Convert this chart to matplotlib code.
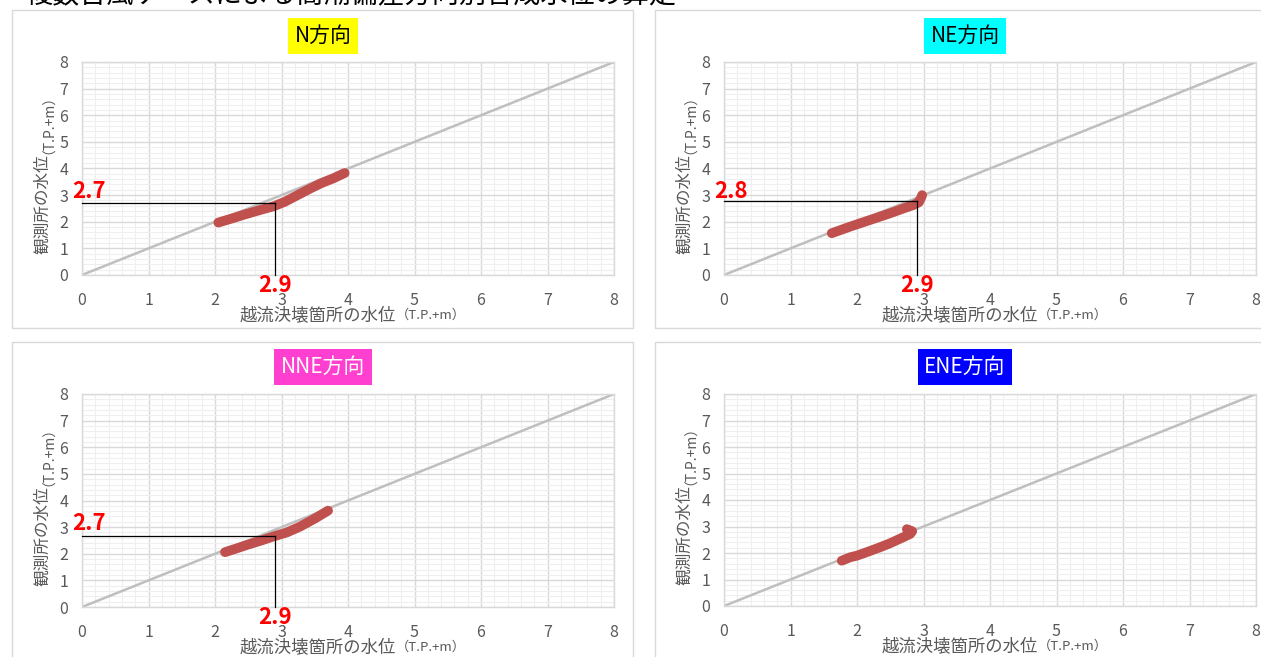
import matplotlib
matplotlib.use("Agg")
import matplotlib.pyplot as plt
from matplotlib.patches import Rectangle
from matplotlib.ticker import MultipleLocator

plt.rcParams['font.family'] = ['Noto Sans CJK JP', 'DejaVu Sans']

# ---- data ----
page_title = "複数台風ケースによる高潮偏差方向別合成水位の算定"
panel_titles = ["N方向", "NE方向", "NNE方向", "ENE方向"]
title_bg = ["#FFFF00", "#00FFFF", "#FF3FCF", "#0000FF"]
title_fg = ["black", "black", "white", "white"]

x_label = "越流決壊箇所の水位"
y_label = "観測所の水位"
unit_label = "（T.P.+m）"

diag_x = [0, 8]
diag_y = [0, 8]

n_x = [2.05, 2.25, 2.43, 2.65, 2.88, 3.05, 3.28, 3.45, 3.6, 3.78, 3.95]
n_y = [1.97, 2.12, 2.26, 2.42, 2.58, 2.75, 3.05, 3.27, 3.45, 3.63, 3.83]

ne_x = [1.62, 1.9, 2.2, 2.5, 2.7, 2.85, 2.93, 2.96, 2.98]
ne_y = [1.57, 1.82, 2.07, 2.32, 2.5, 2.63, 2.73, 2.88, 3.0]

nne_x = [2.15, 2.3, 2.48, 2.7, 2.88, 3.08, 3.28, 3.5, 3.7]
nne_y = [2.06, 2.18, 2.33, 2.5, 2.65, 2.8, 3.02, 3.32, 3.62]

ene_x = [1.77, 1.9, 2.0, 2.2, 2.35, 2.5, 2.7, 2.8, 2.83, 2.75]
ene_y = [1.71, 1.84, 1.9, 2.08, 2.22, 2.37, 2.6, 2.72, 2.82, 2.9]

series_x = [n_x, ne_x, nne_x, ene_x]
series_y = [n_y, ne_y, nne_y, ene_y]

# reading guides (None = no guide)
guide_x = [2.9, 2.9, 2.9, None]
guide_y = [2.7, 2.78, 2.67, None]
guide_xlabel = ["2.9", "2.9", "2.9", None]
guide_ylabel = ["2.7", "2.8", "2.7", None]

ticks = [0, 1, 2, 3, 4, 5, 6, 7, 8]

# ---- figure ----
W, H = 1261, 657
fig = plt.figure(figsize=(W / 100, H / 100), dpi=100)

def fx(px):
    return px / W

def fy(py):
    return 1 - py / H

# chart area borders
boxes = [(12, 10, 633, 328), (655, 10, 1275, 328), (12, 342, 633, 670), (655, 342, 1275, 670)]
for (x0, y0, x1, y1) in boxes:
    fig.patches.append(Rectangle((fx(x0), fy(y1)), fx(x1 - x0), (y1 - y0) / H,
                                 transform=fig.transFigure, fill=False,
                                 edgecolor="#D9D9D9", lw=1.0))

# page title (cut off at top)
fig.text(fx(25), fy(-5), page_title, fontsize=19.5, ha="left", va="center", color="black")

axes_px = [(82, 62, 614, 275), (724, 62, 1256, 275), (82, 394, 614, 607), (724, 394, 1256, 606)]
title_pos = [(323, 36), (965, 36), (323, 367), (965, 367)]

for i, (x0, y0, x1, y1) in enumerate(axes_px):
    ax = fig.add_axes([fx(x0), fy(y1), fx(x1 - x0), (y1 - y0) / H])
    ax.set_xlim(0, 8)
    ax.set_ylim(0, 8)
    ax.xaxis.set_major_locator(MultipleLocator(1))
    ax.yaxis.set_major_locator(MultipleLocator(1))
    ax.xaxis.set_minor_locator(MultipleLocator(0.2))
    ax.yaxis.set_minor_locator(MultipleLocator(0.2))
    ax.grid(which="minor", color="#EFEFEF", lw=0.8)
    ax.grid(which="major", color="#D9D9D9", lw=1.0)
    ax.set_axisbelow(True)
    for s in ax.spines.values():
        s.set_color("#D9D9D9")
        s.set_linewidth(1.0)
    ax.tick_params(which="both", length=0, labelsize=11.5, labelcolor="#595959")
    ax.tick_params(axis="x", pad=12)
    ax.tick_params(axis="y", pad=10)
    ax.set_xticks(ticks)
    ax.set_yticks(ticks)

    ax.plot(diag_x, diag_y, color="#BFBFBF", lw=1.8, zorder=2)

    if guide_x[i] is not None:
        gx, gy = guide_x[i], guide_y[i]
        ax.plot([0, gx], [gy, gy], color="black", lw=0.9, zorder=4, clip_on=False)
        ax.plot([gx, gx], [0, gy], color="black", lw=0.9, zorder=4, clip_on=False)

    ax.plot(series_x[i], series_y[i], color="#C0504D", lw=7.0,
            solid_capstyle="round", solid_joinstyle="round", zorder=3)

    if guide_x[i] is not None:
        ax.text(0.1, 3.15, guide_ylabel[i], color="red", fontsize=16,
                fontweight="bold", ha="center", va="center", clip_on=False, zorder=6)
        ax.text(gx, -0.38, guide_xlabel[i], color="red", fontsize=16,
                fontweight="bold", ha="center", va="center", clip_on=False, zorder=6)

    # x label (two sizes)
    t1 = ax.text(0.59, -0.19, x_label, transform=ax.transAxes, fontsize=12.5,
                 color="#595959", ha="right", va="center")
    ax.annotate(unit_label, xy=(1, 0.5), xycoords=t1, fontsize=9.5, color="#595959",
                ha="left", va="center")

    # y label (two sizes)
    t2 = ax.text(-0.075, 0.0, y_label, transform=ax.transAxes, fontsize=12,
                 color="#595959", ha="center", va="bottom", rotation=90)
    t2.set_y(0.10)
    ax.annotate(unit_label, xy=(0.5, 1), xycoords=t2, fontsize=10, color="#595959",
                ha="center", va="bottom", rotation=90)

    # panel title
    tx, ty = title_pos[i]
    fig.text(fx(tx), fy(ty), panel_titles[i], fontsize=15, color=title_fg[i],
             ha="center", va="center",
             bbox=dict(boxstyle="square,pad=0.32", facecolor=title_bg[i], edgecolor="none"))

fig.savefig("out.png", dpi=100)
